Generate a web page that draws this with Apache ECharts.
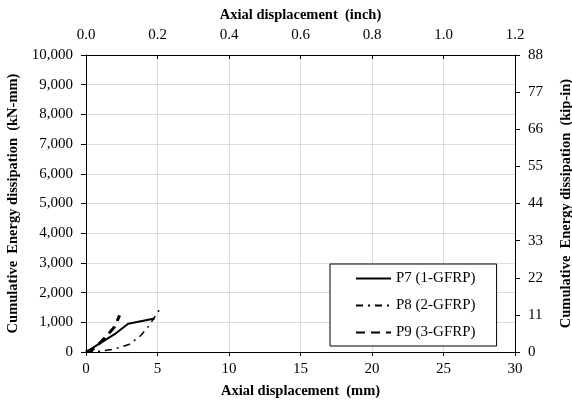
<!DOCTYPE html>
<html><head><meta charset="utf-8">
<script src="https://cdn.jsdelivr.net/npm/echarts@6/dist/echarts.min.js"></script>
<style>html,body{margin:0;padding:0;background:#fff}#c{width:572px;height:403px}</style>
</head><body><div id="c"></div>
<script>
const p7 = [[0,0],[1,300],[2,600],[2.95,950],[4.8,1130]];
const p8 = [[0,0],[1,30],[2,100],[3,250],[3.8,540],[4.4,880],[5.2,1470]];
const p9 = [[0,0],[0.5,100],[1,320],[1.5,570],[2,850],[2.35,1230]];
const names = ['P7 (1-GFRP)','P8 (2-GFRP)','P9 (3-GFRP)'];
const F = 'Liberation Serif';
const chart = echarts.init(document.getElementById('c'));
const lab = (m, extra) => Object.assign({color:'#000', fontFamily:F, fontSize:15, margin:m}, extra||{});
const nameStyle = {color:'#000', fontFamily:F, fontSize:14.5, fontWeight:'bold'};
const aline = {show:true, onZero:false, lineStyle:{color:'#000'}};
chart.setOption({
  animation:false,
  grid:{left:86,right:57,top:55,bottom:51,containLabel:false,outerBoundsMode:'none'},
  legend:{
    data:names, orient:'vertical', left:330, top:264,
    backgroundColor:'#fff', borderColor:'#000', borderWidth:1,
    padding:[7,21,6,25], itemGap:12, itemWidth:35, itemHeight:14,
    itemStyle:{opacity:0},
    textStyle:{color:'#000', fontFamily:F, fontSize:15}
  },
  xAxis:[
    {type:'value', position:'bottom', min:0, max:30, interval:5,
     name:'Axial displacement  (mm)', nameLocation:'middle', nameGap:32, nameTextStyle:nameStyle,
     axisLine:aline, axisTick:{inside:false,length:4,lineStyle:{color:'#000'}},
     axisLabel:lab(10), splitLine:{show:true, lineStyle:{color:'#dcdcdc'}}},
    {type:'value', position:'top', min:0, max:1.2, interval:0.2,
     name:'Axial displacement  (inch)', nameLocation:'middle', nameGap:30, nameTextStyle:nameStyle,
     axisLine:aline, axisTick:{inside:true,length:4,lineStyle:{color:'#000'}},
     axisLabel:lab(12,{formatter:v=>v.toFixed(1)}), splitLine:{show:false}}
  ],
  yAxis:[
    {type:'value', position:'left', min:0, max:10000, interval:1000,
     name:'Cumulative  Energy dissipation  (kN-mm)', nameLocation:'middle', nameGap:57, nameTextStyle:nameStyle,
     axisLine:aline, axisTick:{show:true,length:5,lineStyle:{color:'#000'}},
     axisLabel:lab(13,{formatter:v=>v.toLocaleString('en-US')}),
     splitLine:{show:true, lineStyle:{color:'#dcdcdc'}}},
    {type:'value', position:'right', min:0, max:88, interval:11,
     name:'Cumulative  Energy dissipation  (kip-in)', nameLocation:'middle', nameGap:44, nameRotate:90, nameTextStyle:nameStyle,
     axisLine:aline, axisTick:{show:true,length:5,lineStyle:{color:'#000'}},
     axisLabel:lab(13), splitLine:{show:false}}
  ],
  series:[
    {name:names[0], type:'line', data:p7, symbol:'none', lineStyle:{color:'#000', width:2, type:'solid'}, itemStyle:{color:'#000'}},
    {name:names[1], type:'line', data:p8, symbol:'none', lineStyle:{color:'#000', width:1.5, type:[7,5,2,5]}, itemStyle:{color:'#000'}},
    {name:names[2], type:'line', data:p9, symbol:'none', lineStyle:{color:'#000', width:3, type:[9,6]}, itemStyle:{color:'#000'}}
  ]
});
</script></body></html>
